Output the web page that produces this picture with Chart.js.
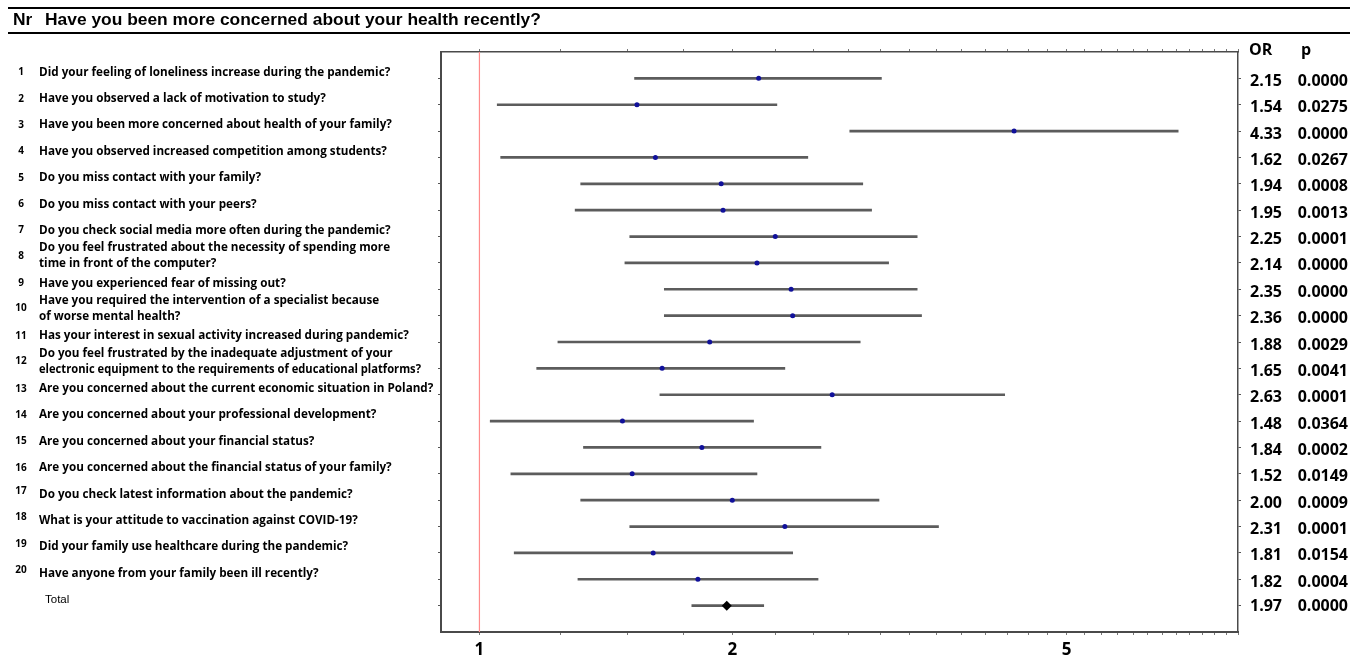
<!DOCTYPE html>
<html>
<head>
<meta charset="utf-8">
<script src="https://cdn.jsdelivr.net/npm/chart.js@4.4.1/dist/chart.umd.min.js"></script>
<style>
  html, body { margin: 0; padding: 0; background: #fff; }
  #wrap { position: relative; width: 1350px; height: 672px; }
</style>
</head>
<body>
<div id="wrap"><canvas id="forest" width="1350" height="672"></canvas></div>
<script>
// rows, top to bottom
const questionNr = ['1','2','3','4','5','6','7','8','9','10','11','12','13','14','15','16','17','18','19','20'];
const questions = [
  ['Did your feeling of loneliness increase during the pandemic?'],
  ['Have you observed a lack of motivation to study?'],
  ['Have you been more concerned about health of your family?'],
  ['Have you observed increased competition among students?'],
  ['Do you miss contact with your family?'],
  ['Do you miss contact with your peers?'],
  ['Do you check social media more often during the pandemic?'],
  ['Do you feel frustrated about the necessity of spending more', 'time in front of the computer?'],
  ['Have you experienced fear of missing out?'],
  ['Have you required the intervention of a specialist because', 'of worse mental health?'],
  ['Has your interest in sexual activity increased during pandemic?'],
  ['Do you feel frustrated by the inadequate adjustment of your', 'electronic equipment to the requirements of educational platforms?'],
  ['Are you concerned about the current economic situation in Poland?'],
  ['Are you concerned about your professional development?'],
  ['Are you concerned about your financial status?'],
  ['Are you concerned about the financial status of your family?'],
  ['Do you check latest information about the pandemic?'],
  ['What is your attitude to vaccination against COVID-19?'],
  ['Did your family use healthcare during the pandemic?'],
  ['Have anyone from your family been ill recently?']
];
const orLabels = ['2.15','1.54','4.33','1.62','1.94','1.95','2.25','2.14','2.35','2.36','1.88','1.65','2.63','1.48','1.84','1.52','2.00','2.31','1.81','1.82'];
const pLabels = ['0.0000','0.0275','0.0000','0.0267','0.0008','0.0013','0.0001','0.0000','0.0000','0.0000','0.0029','0.0041','0.0001','0.0364','0.0002','0.0149','0.0009','0.0001','0.0154','0.0004'];

// marker positions and 95% CI
const orValues = [2.15,1.54,4.33,1.62,1.94,1.95,2.25,2.14,2.35,2.36,1.88,1.65,2.63,1.48,1.84,1.52,2.00,2.31,1.61,1.82];
const ciLow  = [1.53,1.05,2.76,1.06,1.32,1.30,1.51,1.49,1.66,1.66,1.24,1.17,1.64,1.03,1.33,1.09,1.32,1.51,1.10,1.31];
const ciHigh = [3.01,2.26,6.79,2.46,2.86,2.93,3.32,3.07,3.32,3.36,2.84,2.31,4.22,2.12,2.55,2.14,2.99,3.52,2.36,2.53];

const totalLabel = 'Total';
const totalOr = 1.97, totalLow = 1.79, totalHigh = 2.18;
const totalOrLabel = '1.97', totalPLabel = '0.0000';

const titleText = 'Have you been more concerned about your health recently?';
const xTickLabels = [1, 2, 5];
const xMin = 0.9, xMax = 8, minorStep = 0.25;

const nRows = questions.length + 1; // + total
const rowIdx = questions.map((q, i) => i + 1);

const ciData = rowIdx.map((r, i) => ({ y: r, x: [ciLow[i], ciHigh[i]] }));
ciData.push({ y: nRows, x: [totalLow, totalHigh] });
const pointData = rowIdx.map((r, i) => ({ x: orValues[i], y: r }));

const minorTicks = [];
for (let v = 1; v <= xMax + 1e-9; v += minorStep) minorTicks.push(+v.toFixed(2));

const axisColor = '#4a4a4a';
const qFont = '"Open Sans", sans-serif';

function fixSize(prop, size) {
  return s => { s[prop] = size; };
}

const textPlugin = {
  id: 'forestText',
  afterDraw(chart) {
    const ctx = chart.ctx;
    const ys = chart.scales.y;
    ctx.save();
    // header rules
    ctx.fillStyle = '#000';
    ctx.fillRect(8, 7, 1342, 2);
    ctx.fillRect(8, 32, 1342, 2);
    ctx.textBaseline = 'middle';
    ctx.font = 'bold 17.4px "Liberation Sans", Arial, sans-serif';
    ctx.textAlign = 'left';
    ctx.fillText('Nr', 13, 20);
    ctx.fillText(titleText, 45, 20);

    // question rows
    questions.forEach((lines, i) => {
      const yp = ys.getPixelForValue(i + 1);
      ctx.font = 'bold 10px ' + qFont;
      ctx.textAlign = 'center';
      const nrY = lines.length > 1 ? yp - 7 : (i >= 16 ? yp - 9 : yp - 6);
      ctx.fillText(questionNr[i], 21, nrY);
      ctx.font = 'bold 11.7px ' + qFont;
      ctx.textAlign = 'left';
      if (lines.length > 1) {
        ctx.fillText(lines[0], 39, yp - 15, 382);
        ctx.fillText(lines[1], 39, yp + 1, 382);
      } else {
        ctx.fillText(lines[0], 39, yp - 6);
      }
      ctx.font = 'bold 16px ' + qFont;
      ctx.textAlign = 'right';
      ctx.fillText(orLabels[i], 1282, yp + 3);
      ctx.fillText(pLabels[i], 1348, yp + 3);
    });
    const ty = ys.getPixelForValue(nRows);
    ctx.font = '11.5px "Liberation Sans", Arial, sans-serif';
    ctx.textAlign = 'left';
    ctx.fillText(totalLabel, 45, ty - 6);
    ctx.font = 'bold 16px ' + qFont;
    ctx.textAlign = 'right';
    ctx.fillText(totalOrLabel, 1282, ty + 1);
    ctx.fillText(totalPLabel, 1348, ty + 1);

    // column header
    ctx.font = 'bold 16px ' + qFont;
    ctx.textAlign = 'left';
    ctx.fillText('OR', 1249, 50);
    ctx.fillText('p', 1301, 50);
    ctx.restore();
  }
};

const rowTicks = s => { s.ticks = rowIdx.concat([nRows]).map(v => ({ value: v })); };
const xTicks = s => { s.ticks = minorTicks.map(v => ({ value: v })); };

new Chart(document.getElementById('forest'), {
  type: 'bar',
  data: {
    datasets: [
      {
        label: 'CI',
        indexAxis: 'y',
        data: ciData,
        backgroundColor: '#5c5c5c',
        borderWidth: 0,
        barThickness: 2,
        order: 3
      },
      {
        type: 'line',
        label: 'ref',
        data: [{ x: 1, y: 0 }, { x: 1, y: nRows + 1 }],
        borderColor: '#ff8c8c',
        borderWidth: 1.2,
        pointRadius: 0,
        order: 4
      },
      {
        type: 'line',
        label: 'OR',
        data: pointData,
        showLine: false,
        pointRadius: 2.5,
        pointBackgroundColor: '#10109a',
        pointBorderWidth: 0,
        order: 1
      },
      {
        type: 'line',
        label: 'Total',
        data: [{ x: totalOr, y: nRows }],
        showLine: false,
        pointStyle: 'rectRot',
        pointRadius: 5,
        pointBackgroundColor: '#000',
        pointBorderWidth: 0,
        order: 0
      }
    ]
  },
  options: {
    responsive: false,
    animation: false,
    layout: { padding: 0 },
    plugins: { legend: { display: false }, tooltip: { enabled: false } },
    scales: {
      x: {
        type: 'logarithmic', position: 'bottom', min: xMin, max: xMax, offset: false,
        afterBuildTicks: xTicks,
        afterFit: fixSize('height', 40),
        border: { display: true, color: axisColor, width: 2 },
        grid: { drawOnChartArea: false, drawTicks: true, tickLength: 3, color: '#777', offset: false },
        ticks: {
          autoSkip: false, maxRotation: 0, padding: 5,
          color: '#000',
          font: { family: '"Open Sans", sans-serif', size: 17, weight: 'bold' },
          callback: v => xTickLabels.includes(+(+v).toFixed(2)) ? String(v) : ''
        }
      },
      x2: {
        type: 'logarithmic', position: 'top', min: xMin, max: xMax, offset: false,
        afterBuildTicks: xTicks,
        afterFit: fixSize('height', 52),
        border: { display: true, color: axisColor, width: 1.5 },
        grid: { drawOnChartArea: false, drawTicks: true, tickLength: 3, color: '#777', offset: false },
        ticks: { autoSkip: false, callback: () => '' }
      },
      y: {
        type: 'linear', position: 'left', reverse: true, min: 0, max: nRows + 1, offset: false,
        afterBuildTicks: rowTicks,
        afterFit: fixSize('width', 441),
        border: { display: true, color: axisColor, width: 2 },
        grid: { drawOnChartArea: false, drawTicks: true, tickLength: 3, color: '#555', offset: false },
        ticks: { display: false }
      },
      y2: {
        type: 'linear', position: 'right', reverse: true, min: 0, max: nRows + 1, offset: false,
        afterBuildTicks: rowTicks,
        afterFit: fixSize('width', 112),
        border: { display: true, color: axisColor, width: 1.5 },
        grid: { drawOnChartArea: false, drawTicks: true, tickLength: 3, color: '#555', offset: false },
        ticks: { display: false }
      }
    }
  },
  plugins: [textPlugin]
});
</script>
</body>
</html>
